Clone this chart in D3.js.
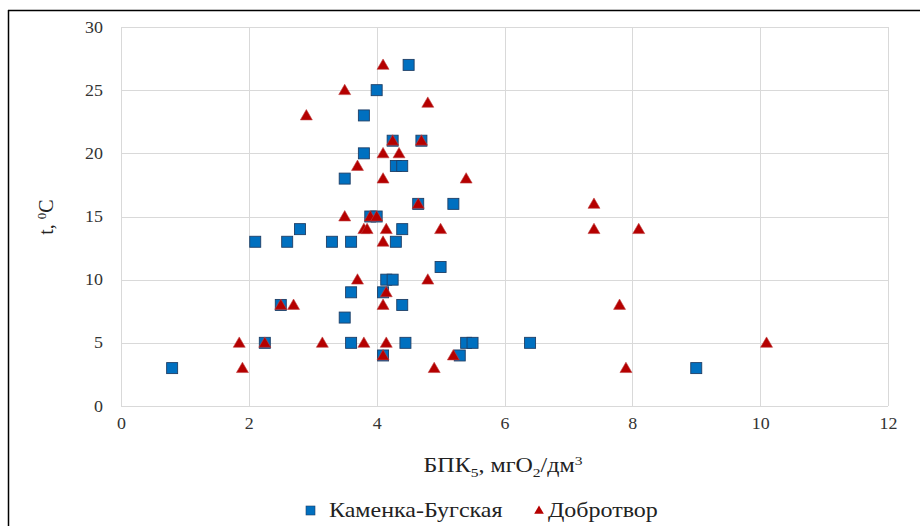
<!DOCTYPE html>
<html>
<head>
<meta charset="utf-8">
<script src="https://cdn.jsdelivr.net/npm/d3@7"></script>
<style>
  body { margin: 0; background: #fff; }
  svg text { font-family: 'Liberation Serif', 'Times New Roman', 'DejaVu Serif', serif; }
</style>
</head>
<body>
<svg id="chart" width="920" height="526"></svg>
<script>
// Каменка-Бугская: [БПК5, t]
var kamenka = [
  [0.8,3],[2.1,13],[2.25,5],[2.5,8],[2.6,13],[2.8,14],[3.3,13],[3.5,7],[3.5,18],
  [3.6,13],[3.6,9],[3.6,5],[3.8,23],[3.8,20],[3.9,15],[4.0,15],[4.0,25],[4.1,9],
  [4.1,4],[4.15,10],[4.25,10],[4.25,21],[4.3,19],[4.4,19],[4.3,13],[4.4,14],
  [4.4,8],[4.5,27],[4.45,5],[4.7,21],[4.65,16],[5.0,11],[5.2,16],[5.3,4],
  [5.4,5],[5.5,5],[6.4,5],[9.0,3]
];
// Добротвор
var dobrotvor = [
  [4.1,27],[3.5,25],[2.9,23],[4.8,24],[4.25,21],[4.7,21],[4.1,20],[4.35,20],
  [3.7,19],[4.1,18],[5.4,18],[4.65,16],[7.4,16],[3.5,15],[3.9,15],[4.0,15],
  [3.8,14],[3.85,14],[4.15,14],[5.0,14],[7.4,14],[8.1,14],[4.1,13],[3.7,10],
  [4.8,10],[4.15,9],[2.5,8],[2.7,8],[4.1,8],[7.8,8],[1.85,5],[2.25,5],[3.15,5],
  [3.8,5],[4.15,5],[10.1,5],[4.1,4],[5.2,4],[1.9,3],[4.9,3],[7.9,3]
];
var xTicks = [0, 2, 4, 6, 8, 10, 12];
var yTicks = [0, 5, 10, 15, 20, 25, 30];

var svg = d3.select("#chart");
var pLeft = 121, pRight = 888, pTop = 27, pBottom = 406;
var stretch = 1.2; // the source picture's text is horizontally wide

var x = d3.scaleLinear().domain([0, 12]).range([pLeft, pRight]);
var y = d3.scaleLinear().domain([0, 30]).range([pBottom, pTop]);

// frame lines (top and left of the chart area)
svg.append("line").attr("x1", 8).attr("x2", 920).attr("y1", 10.5).attr("y2", 10.5)
  .attr("stroke", "#000").attr("stroke-width", 1.5);
svg.append("line").attr("x1", 8.5).attr("x2", 8.5).attr("y1", 10).attr("y2", 526)
  .attr("stroke", "#000").attr("stroke-width", 1.5);

// grid
svg.append("g").selectAll("line").data(xTicks).join("line")
  .attr("x1", d => Math.round(x(d)) + 0.5).attr("x2", d => Math.round(x(d)) + 0.5)
  .attr("y1", pTop).attr("y2", pBottom)
  .attr("stroke", "#d9d9d9");
svg.append("g").selectAll("line").data(yTicks).join("line")
  .attr("x1", pLeft).attr("x2", pRight)
  .attr("y1", d => Math.round(y(d)) + 0.5).attr("y2", d => Math.round(y(d)) + 0.5)
  .attr("stroke", "#d9d9d9");

// axes (labels only)
var xAxis = svg.append("g").attr("transform", `translate(0,${pBottom})`)
  .call(d3.axisBottom(x).tickValues(xTicks).tickSize(0).tickPadding(12));
var yAxis = svg.append("g").attr("transform", `translate(${pLeft},0)`)
  .call(d3.axisLeft(y).tickValues(yTicks).tickSize(0).tickPadding(18));
[xAxis, yAxis].forEach(g => {
  g.attr("font-size", 16);
  g.select(".domain").remove();
  g.selectAll("text").attr("fill", "#333").attr("transform", "scale(1.12,1)");
});
yAxis.selectAll("text").attr("x", -18 / 1.12);

// axis titles
var xt = svg.append("text").attr("transform", `translate(503,472) scale(${stretch},1)`)
  .attr("text-anchor", "middle").attr("font-size", 20).attr("fill", "#222");
xt.append("tspan").text("БПК");
xt.append("tspan").attr("font-size", 13).attr("dy", 5).text("5");
xt.append("tspan").attr("dy", -5).text(", мгО");
xt.append("tspan").attr("font-size", 13).attr("dy", 5).text("2");
xt.append("tspan").attr("dy", -5).text("/дм");
xt.append("tspan").attr("font-size", 13).attr("dy", -7).text("3");

var yt = svg.append("text").attr("transform", "translate(53,217) rotate(-90)")
  .attr("text-anchor", "middle").attr("font-size", 20).attr("fill", "#222");
yt.append("tspan").text("t, ");
yt.append("tspan").attr("font-size", 13).attr("dy", -7).text("0");
yt.append("tspan").attr("dy", 7).text("C");

// marks
var sq = 11;
svg.append("g").selectAll("rect").data(kamenka).join("rect")
  .attr("x", d => x(d[0]) - sq / 2).attr("y", d => y(d[1]) - sq / 2)
  .attr("width", sq).attr("height", sq)
  .attr("fill", "#0070c0").attr("stroke", "#1f3f66").attr("stroke-width", 0.9);

var tri = d3.symbol().type(d3.symbolTriangle).size(62);
svg.append("g").selectAll("path").data(dobrotvor).join("path")
  .attr("d", tri)
  .attr("transform", d => `translate(${x(d[0])},${y(d[1]) + 1})`)
  .attr("fill", "#b50000").attr("stroke", "#c04040").attr("stroke-width", 0.6);

// legend
var lg = svg.append("g").attr("transform", "translate(0,511)");
lg.append("rect").attr("x", 306).attr("y", -5).attr("width", 9).attr("height", 9)
  .attr("fill", "#0070c0").attr("stroke", "#1f3f66").attr("stroke-width", 0.6);
lg.append("text").attr("transform", `translate(329,6) scale(${stretch},1)`)
  .attr("font-size", 20).attr("fill", "#222")
  .text("Каменка-Бугская");
lg.append("path").attr("d", d3.symbol().type(d3.symbolTriangle).size(40))
  .attr("transform", "translate(539,0)").attr("fill", "#b50000");
lg.append("text").attr("transform", `translate(548,6) scale(${stretch},1)`)
  .attr("font-size", 20).attr("fill", "#222")
  .text("Добротвор");
</script>
</body>
</html>
